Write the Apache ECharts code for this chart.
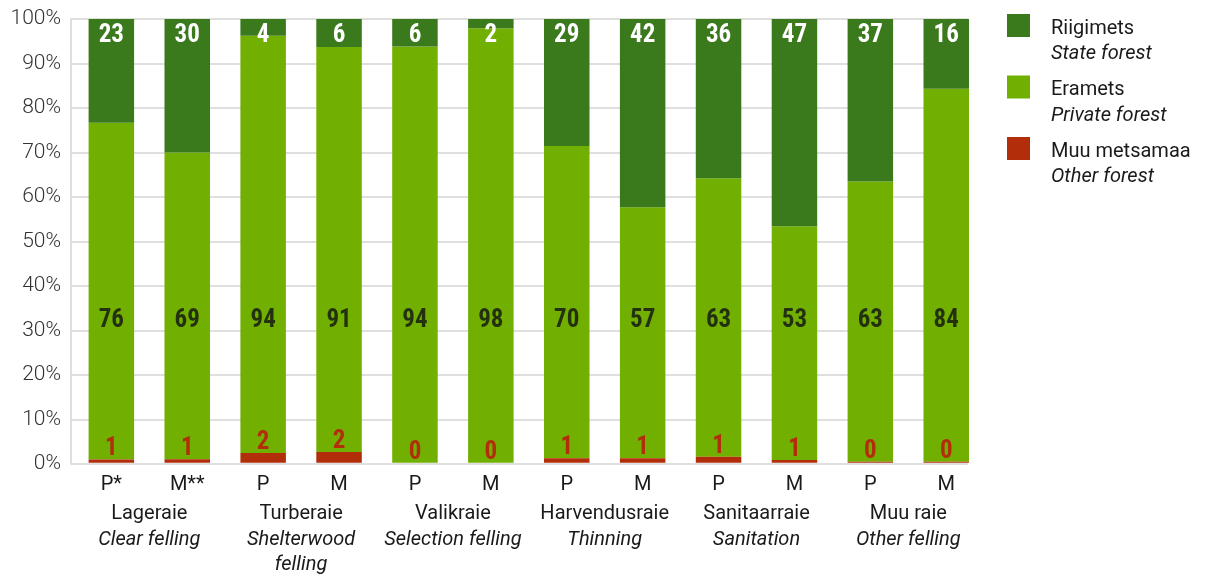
<!DOCTYPE html>
<html>
<head>
<meta charset="utf-8">
<script src="https://cdn.jsdelivr.net/npm/echarts@6/dist/echarts.min.js"></script>
<style>
  html, body { margin: 0; padding: 0; background: #ffffff; }
  #chart { width: 1205px; height: 575px; }
</style>
</head>
<body>
<div id="chart"></div>
<script>
// Harvest share by forest ownership, per felling type (P / M pairs)
const categories = ['P*', 'M**', 'P', 'M', 'P', 'M', 'P', 'M', 'P', 'M', 'P', 'M'];
const groupNames = ['Lageraie', 'Turberaie', 'Valikraie', 'Harvendusraie', 'Sanitaarraie', 'Muu raie'];
const groupNamesEn = ['Clear felling', 'Shelterwood\nfelling', 'Selection felling', 'Thinning', 'Sanitation', 'Other felling'];

const seriesNames = ['Riigimets', 'Eramets', 'Muu metsamaa'];
const seriesNamesEn = ['State forest', 'Private forest', 'Other forest'];

// shares in %, one value per bar
const stateForest   = [23.4, 30.1, 3.75, 6.3, 6.2, 2.1, 28.6, 42.4, 35.9, 46.7, 36.6, 15.7];
const privateForest = [75.85, 69.1, 94.05, 91.3, 93.8, 97.9, 70.4, 56.6, 62.75, 52.7, 63.2, 84.1];
const otherForest   = [0.75, 0.8, 2.2, 2.4, 0, 0, 1.0, 1.0, 1.35, 0.6, 0.2, 0.2];

const yTickValues = [0, 10, 20, 30, 40, 50, 60, 70, 80, 90, 100];

const COLORS = { state: '#3a7a1c', priv: '#71b000', other: '#b22e0b' };
const FONT = 'Roboto, "Noto Sans", sans-serif';
const NUM_FONT = '"Liberation Sans Narrow", "Roboto Condensed", "DejaVu Sans Condensed", Roboto, sans-serif';
// height (in %) at which the private-forest shares are written
const PRIVATE_LABEL_LEVEL = 31.9;

const round = v => String(Math.round(v));
const enByName = {};
seriesNames.forEach((n, i) => { enByName[n] = seriesNamesEn[i]; });

const chart = echarts.init(document.getElementById('chart'), null, { renderer: 'canvas' });

const option = {
  animation: false,
  backgroundColor: '#ffffff',
  grid: [
    { left: 71, top: 19, width: 897, height: 445, containLabel: false },
    { left: 73.4, top: 19, width: 910.8, height: 445, containLabel: false }
  ],
  legend: {
    orient: 'vertical',
    left: 1007,
    top: -10,
    padding: 0,
    itemWidth: 23,
    itemHeight: 23,
    itemGap: -12.5,
    icon: 'rect',
    selectedMode: false,
    data: seriesNames,
    formatter: name => `{e| }\n{a|${name}}\n{b|${enByName[name]}}`,
    textStyle: {
      rich: {
        e: { fontSize: 20, lineHeight: 32, fontFamily: FONT },
        a: { fontSize: 20, lineHeight: 25, fontFamily: FONT, color: '#1a1a1a', padding: [0, 0, 0, 16] },
        b: { fontSize: 20, lineHeight: 26, fontFamily: FONT, fontStyle: 'italic', color: '#1a1a1a', padding: [0, 0, 0, 16] }
      }
    }
  },
  xAxis: [
    {
      gridIndex: 0, type: 'category', data: categories, show: false
    },
    {
      gridIndex: 1, type: 'category', data: categories, position: 'bottom',
      axisLine: { show: false }, axisTick: { show: false },
      axisLabel: { fontFamily: FONT, fontSize: 20, lineHeight: 22, color: '#1a1a1a', margin: 11, interval: 0 }
    },
    {
      gridIndex: 1, type: 'category', data: groupNames, position: 'bottom',
      axisLine: { show: false }, axisTick: { show: false },
      axisLabel: {
        interval: 0, margin: 39,
        formatter: (value, idx) =>
          `{a|${groupNames[idx]}}\n` + groupNamesEn[idx].split('\n').map(s => `{b|${s}}`).join('\n'),
        rich: {
          a: { fontFamily: FONT, fontSize: 20, lineHeight: 25, color: '#1a1a1a' },
          b: { fontFamily: FONT, fontSize: 20, lineHeight: 25.5, color: '#1a1a1a', fontStyle: 'italic' }
        }
      }
    }
  ],
  yAxis: [
    {
      gridIndex: 0, type: 'value', min: 0, max: 100, interval: 10,
      axisLine: { show: true, lineStyle: { color: '#d4d4d4', width: 1.5 } },
      axisTick: { show: false },
      splitLine: { show: true, lineStyle: { color: '#d4d4d4', width: 1.5 } },
      axisLabel: {
        margin: 10, fontFamily: FONT, fontSize: 21, fontWeight: 300, color: '#333333',
        customValues: yTickValues,
        formatter: v => v + '%'
      }
    },
    { gridIndex: 1, type: 'value', min: 0, max: 100, show: false }
  ],
  series: [
    {
      name: 'Muu metsamaa', type: 'bar', stack: 'share', xAxisIndex: 1, yAxisIndex: 1,
      barWidth: 45.5, z: 3,
      itemStyle: { color: COLORS.other },
      data: otherForest,
      label: {
        show: true, position: 'top', distance: -2,
        fontFamily: NUM_FONT, fontWeight: 'bold', fontSize: 25, color: COLORS.other,
        formatter: p => round(p.value)
      }
    },
    {
      name: 'Eramets', type: 'bar', stack: 'share', xAxisIndex: 1, yAxisIndex: 1,
      barWidth: 45.5, z: 2,
      itemStyle: { color: COLORS.priv },
      data: privateForest
    },
    {
      name: 'Riigimets', type: 'bar', stack: 'share', xAxisIndex: 1, yAxisIndex: 1,
      barWidth: 45.5, z: 3,
      itemStyle: { color: COLORS.state },
      data: stateForest,
      label: {
        show: true, position: 'insideTop', distance: 4,
        fontFamily: NUM_FONT, fontWeight: 'bold', fontSize: 25, color: '#ffffff',
        formatter: p => round(p.value)
      }
    },
    {
      // private-forest shares written at a common height
      name: 'Eramets label', type: 'scatter', xAxisIndex: 1, yAxisIndex: 1,
      symbolSize: 0, silent: true, z: 5,
      data: privateForest.map((v, i) => [i, PRIVATE_LABEL_LEVEL]),
      label: {
        show: true, position: 'inside',
        fontFamily: NUM_FONT, fontWeight: 'bold', fontSize: 25, color: '#111111',
        formatter: p => round(privateForest[p.dataIndex])
      }
    }
  ]
};

chart.setOption(option);
</script>
</body>
</html>
